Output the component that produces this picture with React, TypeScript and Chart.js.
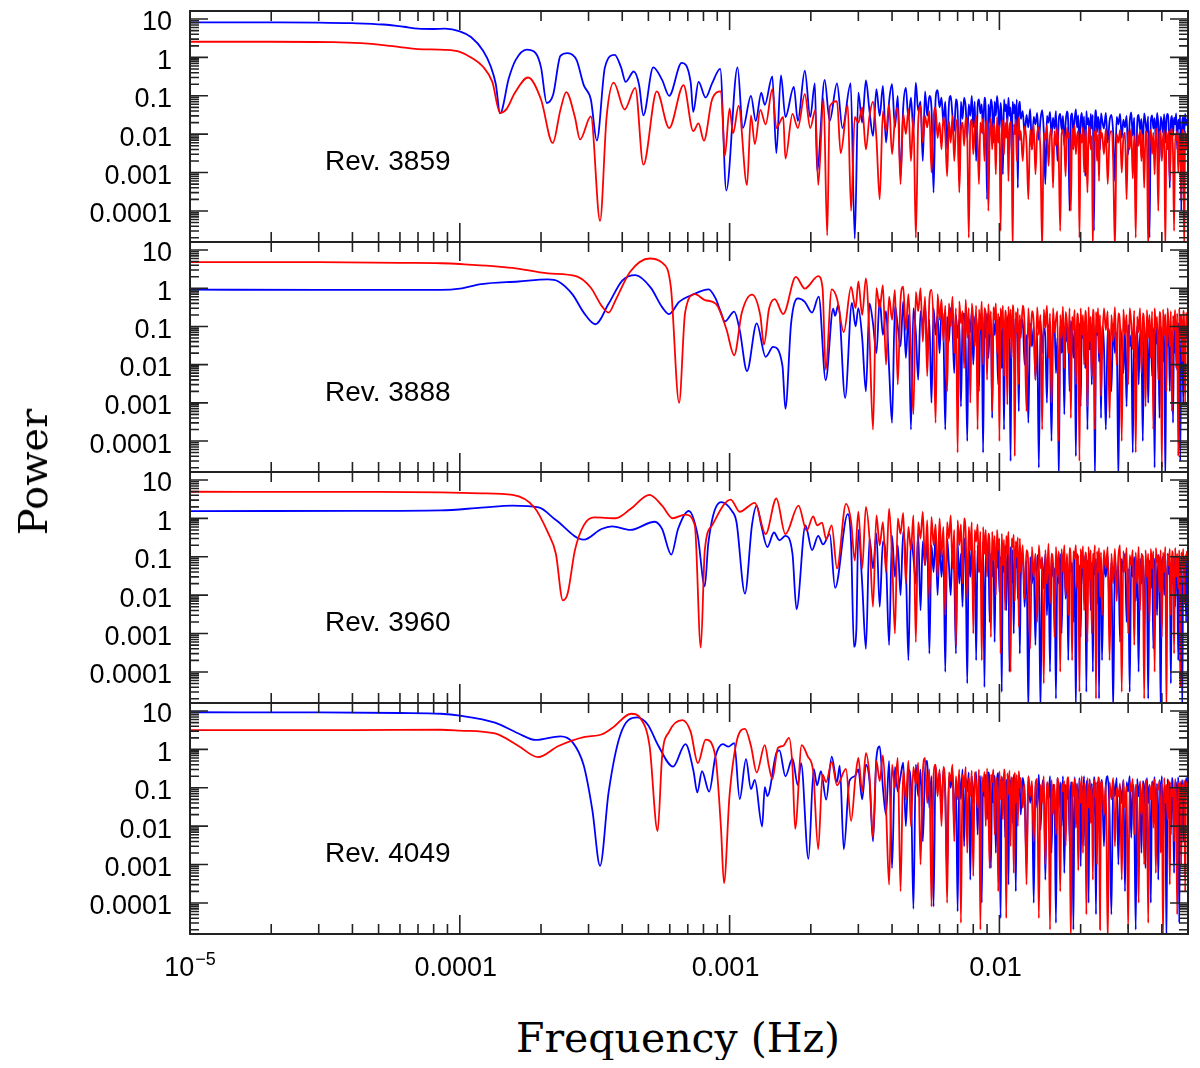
import React, { useEffect, useRef } from "react";
import { Chart, registerables } from "chart.js";

Chart.register(...registerables);

// axis ranges, the same in all four panels
const X_MIN = 1e-5;
const X_MAX = 0.05;
const Y_MIN = 1.55e-5;
const Y_MAX = 16.2;

const X_TICKS = [1e-5, 1e-4, 1e-3, 1e-2];
const X_TICK_LABELS = ["10^-5", "0.0001", "0.001", "0.01"];
const Y_TICKS = [10, 1, 0.1, 0.01, 0.001, 0.0001];
const Y_TICK_LABELS = ["10", "1", "0.1", "0.01", "0.001", "0.0001"];

const REVS = ["Rev. 3859", "Rev. 3888", "Rev. 3960", "Rev. 4049"];

// frequency grid (Hz) of the noisy end of every spectrum
const HI_FREQ = [
  0.003, 0.0031, 0.0032, 0.0033, 0.0034, 0.0035, 0.0036, 0.0037, 0.0038, 0.0039,
  0.004, 0.0041, 0.0042, 0.0043, 0.0044, 0.0045, 0.0046, 0.0047, 0.0048, 0.0049,
  0.005, 0.0051, 0.0052, 0.0053, 0.0054, 0.0055, 0.0056, 0.0057, 0.0058, 0.0059,
  0.006, 0.0061, 0.0062, 0.0063, 0.0064, 0.0065, 0.0066, 0.0067, 0.0068, 0.0069,
  0.007, 0.0071, 0.0072, 0.0073, 0.0074, 0.0075, 0.0076, 0.0077, 0.0078, 0.0079,
  0.008, 0.0081, 0.0082, 0.0083, 0.0084, 0.0085, 0.0086, 0.0087, 0.0088, 0.0089,
  0.009, 0.0091, 0.0092, 0.0093, 0.0094, 0.0095, 0.0096, 0.0097, 0.0098, 0.0099,
  0.01, 0.0101, 0.0102, 0.0103, 0.0104, 0.0105, 0.0106, 0.0107, 0.0108, 0.0109,
  0.011, 0.0111, 0.0112, 0.0113, 0.0114, 0.0115, 0.0116, 0.0117, 0.0118, 0.0119,
  0.012, 0.0122, 0.0124, 0.0126, 0.0128, 0.013, 0.0132, 0.0134, 0.0136, 0.0138,
  0.014, 0.0142, 0.0144, 0.0146, 0.0148, 0.015, 0.0152, 0.0154, 0.0156, 0.0158,
  0.016, 0.0162, 0.0164, 0.0166, 0.0168, 0.017, 0.0172, 0.0174, 0.0176, 0.0178,
  0.018, 0.0182, 0.0184, 0.0186, 0.0188, 0.019, 0.0192, 0.0194, 0.0196, 0.0198,
  0.02, 0.0202, 0.0204, 0.0206, 0.0208, 0.021, 0.0212, 0.0214, 0.0216, 0.0218,
  0.022, 0.0222, 0.0224, 0.0226, 0.0228, 0.023, 0.0232, 0.0234, 0.0236, 0.0238,
  0.024, 0.0244, 0.0248, 0.0252, 0.0256, 0.026, 0.0264, 0.0268, 0.0272, 0.0276,
  0.028, 0.0284, 0.0288, 0.0292, 0.0296, 0.03, 0.0304, 0.0308, 0.0312, 0.0316,
  0.032, 0.0324, 0.0328, 0.0332, 0.0336, 0.034, 0.0344, 0.0348, 0.0352, 0.0356,
  0.036, 0.0364, 0.0368, 0.0372, 0.0376, 0.038, 0.0384, 0.0388, 0.0392, 0.0396,
  0.04, 0.0404, 0.0408, 0.0412, 0.0416, 0.042, 0.0424, 0.0428, 0.0432, 0.0436,
  0.044, 0.0444, 0.0448, 0.0452, 0.0456, 0.046, 0.0464, 0.0468, 0.0472, 0.0476,
  0.048, 0.0484, 0.0488, 0.0492, 0.0496,
];

// ---- Rev. 3859 ----
const blue3859: [number, number][] = [
  [1e-5, 8.2], [2e-5, 8.2], [3e-5, 8.1], [4e-5, 7.8], [5.2e-5, 7.2], [6.2e-5, 6.3],
  [7e-5, 5.6], [8e-5, 5.5], [8.8e-5, 5.6], [1e-4, 4.8], [1.1e-4, 3.4], [1.22e-4, 1.5],
  [1.3e-4, 0.6], [1.36e-4, 0.2], [1.41e-4, 0.035], [1.52e-4, 0.29], [1.61e-4, 0.85],
  [1.77e-4, 1.6], [1.91e-4, 1.3], [2.0e-4, 0.55], [2.1e-4, 0.065], [2.22e-4, 0.11],
  [2.36e-4, 1.1], [2.51e-4, 1.3], [2.71e-4, 0.85], [2.88e-4, 0.19], [3.06e-4, 0.08],
  [3.22e-4, 0.0068], [3.45e-4, 0.55], [3.75e-4, 1.17], [3.96e-4, 0.55], [4.12e-4, 0.23],
  [4.41e-4, 0.43], [4.62e-4, 0.19], [4.79e-4, 0.031], [5.21e-4, 0.55], [5.62e-4, 0.26],
  [5.97e-4, 0.1], [6.64e-4, 0.72], [7.17e-4, 0.23], [7.33e-4, 0.038], [7.67e-4, 0.23],
  [8.15e-4, 0.09], [8.61e-4, 0.21], [9.23e-4, 0.5], [9.72e-4, 0.00034], [1.07e-3, 0.55],
  [1.12e-3, 0.0145], [1.2e-3, 0.1], [1.25e-3, 0.022], [1.31e-3, 0.12], [1.35e-3, 0.058],
  [1.44e-3, 0.32], [1.49e-3, 0.0032], [1.55e-3, 0.34], [1.61e-3, 0.028], [1.73e-3, 0.17],
  [1.79e-3, 0.022], [1.9e-3, 0.45], [1.99e-3, 0.028], [2.07e-3, 0.21], [2.11e-3, 0.0011],
  [2.25e-3, 0.26], [2.35e-3, 0.022], [2.5e-3, 0.21], [2.62e-3, 0.0145], [2.81e-3, 0.21],
  [2.91e-3, 0.000019],
];
const blue3859Hi = [
  0.12, 0.02, 0.25, 0.04, 0.009, 0.15, 0.03, 0.18, 0.006, 0.07,
  0.2, 0.015, 0.1, 0.0008, 0.05, 0.16, 0.025, 0.09, 0.012, 0.22,
  0.04, 0.07, 0.002, 0.13, 0.03, 0.1, 0.05, 0.0003, 0.08, 0.14,
  0.05, 0.09, 0.02, 0.07, 0.004, 0.06, 0.1, 0.03, 0.012, 0.08,
  0.04, 0.0006, 0.07, 0.025, 0.09, 0.05, 0.008, 0.06, 0.03, 0.1,
  0.015, 0.07, 0.002, 0.05, 0.08, 0.035, 0.06, 0.01, 0.09, 0.04,
  0.0002, 0.06, 0.02, 0.08, 0.05, 0.006, 0.07, 0.03, 0.1, 0.045,
  0.012, 0.065, 0.025, 0.0009, 0.08, 0.04, 0.06, 0.018, 0.09, 0.03,
  0.05, 0.003, 0.07, 0.035, 0.06, 0.015, 0.08, 0.0004, 0.05, 0.07,
  0.025, 0.04, 0.01, 0.032, 0.015, 0.045, 0.004, 0.028, 0.018, 0.036,
  0.007, 0.024, 0.042, 0.012, 0.0005, 0.03, 0.02, 0.038, 0.009, 0.027,
  0.014, 0.04, 0.002, 0.025, 0.034, 0.013, 0.03, 0.005, 0.021, 0.039,
  0.017, 0.0001, 0.028, 0.035, 0.01, 0.024, 0.044, 0.015, 0.031, 0.003,
  0.022, 0.036, 0.011, 0.029, 0.0008, 0.04, 0.018, 0.026, 0.006, 0.034,
  0.014, 0.032, 0.00003, 0.021, 0.042, 0.011, 0.028, 0.019, 0.004, 0.035,
  0.025, 0.014, 0.036, 0.006, 0.022, 0.032, 0.011, 0.0006, 0.028, 0.018,
  0.034, 0.008, 0.024, 0.015, 0.03, 0.003, 0.021, 0.037, 0.009, 0.027,
  0.0002, 0.018, 0.032, 0.013, 0.025, 0.005, 0.035, 0.02, 0.011, 0.029,
  0.00002, 0.022, 0.031, 0.014, 0.026, 0.007, 0.036, 0.018, 0.002, 0.028,
  0.021, 0.011, 0.033, 0.006, 0.025, 0.034, 0.015, 0.0004, 0.022, 0.03,
  0.009, 0.027, 0.018, 0.035, 0.004, 0.024, 0.014, 0.031, 0.0001, 0.021,
  0.028, 0.011, 0.034, 0.017, 0.025,
];
const red3859: [number, number][] = [
  [1e-5, 2.56], [2e-5, 2.56], [3.4e-5, 2.5], [4.3e-5, 2.35], [5.2e-5, 2.1], [6e-5, 1.85],
  [7e-5, 1.65], [8.8e-5, 1.58], [1e-4, 1.4], [1.1e-4, 1.0], [1.22e-4, 0.57], [1.32e-4, 0.23],
  [1.41e-4, 0.036], [1.49e-4, 0.045], [1.6e-4, 0.12], [1.79e-4, 0.3], [2.0e-4, 0.08],
  [2.21e-4, 0.0059], [2.36e-4, 0.043], [2.48e-4, 0.125], [2.67e-4, 0.028], [2.79e-4, 0.0073],
  [3.06e-4, 0.029], [3.31e-4, 0.000055], [3.5e-4, 0.028], [3.72e-4, 0.22], [4.08e-4, 0.044],
  [4.47e-4, 0.16], [4.79e-4, 0.0016], [5.37e-4, 0.13], [5.97e-4, 0.0145], [6.75e-4, 0.19],
  [7.33e-4, 0.012], [7.67e-4, 0.019], [8.03e-4, 0.0068], [8.61e-4, 0.08], [9.29e-4, 0.13],
  [9.6e-4, 0.0027], [1.0e-3, 0.047], [1.03e-3, 0.0105], [1.08e-3, 0.055], [1.16e-3, 0.00047],
  [1.2e-3, 0.031], [1.24e-3, 0.0055], [1.3e-3, 0.043], [1.36e-3, 0.018], [1.44e-3, 0.15],
  [1.49e-3, 0.0145], [1.58e-3, 0.028], [1.61e-3, 0.0023], [1.71e-3, 0.034], [1.79e-3, 0.0145],
  [1.9e-3, 0.11], [1.99e-3, 0.0145], [2.08e-3, 0.043], [2.13e-3, 0.00047], [2.23e-3, 0.085],
  [2.3e-3, 0.000023], [2.35e-3, 0.052], [2.5e-3, 0.072], [2.58e-3, 0.0032], [2.74e-3, 0.059],
  [2.82e-3, 0.0001], [2.91e-3, 0.028],
];
const red3859Hi = [
  0.02, 0.05, 0.004, 0.03, 0.07, 0.008, 0.0002, 0.04, 0.012, 0.06,
  0.003, 0.025, 0.05, 0.0005, 0.035, 0.01, 0.045, 0.002, 0.03, 0.00002,
  0.02, 0.055, 0.006, 0.03, 0.015, 0.04, 0.001, 0.025, 0.05, 0.008,
  0.02, 0.004, 0.028, 0.01, 0.0008, 0.022, 0.006, 0.03, 0.002, 0.015,
  0.025, 0.0003, 0.012, 0.02, 0.005, 0.027, 0.009, 0.00002, 0.018, 0.024,
  0.003, 0.014, 0.03, 0.007, 0.0005, 0.02, 0.011, 0.026, 0.002, 0.016,
  0.022, 0.0001, 0.009, 0.025, 0.004, 0.019, 0.013, 0.0009, 0.028, 0.006,
  0.017, 0.00003, 0.012, 0.023, 0.003, 0.02, 0.008, 0.026, 0.0006, 0.015,
  0.021, 0.005, 0.00001, 0.018, 0.01, 0.024, 0.002, 0.014, 0.027, 0.007,
  0.012, 0.002, 0.016, 0.006, 0.0002, 0.013, 0.004, 0.018, 0.0009, 0.01,
  0.015, 0.003, 0.00001, 0.011, 0.007, 0.017, 0.0015, 0.009, 0.014, 0.0004,
  0.012, 0.005, 0.016, 0.002, 0.00003, 0.01, 0.013, 0.006, 0.0008, 0.015,
  0.008, 0.011, 0.0001, 0.014, 0.004, 0.017, 0.003, 0.009, 0.012, 0.00002,
  0.01, 0.006, 0.015, 0.001, 0.013, 0.005, 0.0003, 0.011, 0.016, 0.004,
  0.009, 0.00001, 0.012, 0.007, 0.014, 0.002, 0.01, 0.0006, 0.013, 0.008,
  0.011, 0.003, 0.014, 0.0005, 0.009, 0.012, 0.002, 0.00001, 0.01, 0.006,
  0.013, 0.001, 0.008, 0.011, 0.0002, 0.012, 0.004, 0.014, 0.0007, 0.009,
  0.00002, 0.011, 0.005, 0.013, 0.002, 0.01, 0.0004, 0.012, 0.007, 0.00001,
  0.009, 0.013, 0.003, 0.011, 0.0009, 0.014, 0.006, 0.0001, 0.01, 0.012,
  0.002, 0.008, 0.013, 0.00001, 0.011, 0.004, 0.012, 0.0006, 0.009, 0.014,
  0.003, 0.00003, 0.01, 0.007, 0.012, 0.001, 0.011, 0.005, 0.0002, 0.013,
  0.009, 0.00001, 0.012, 0.004, 0.01,
];

// ---- Rev. 3888 ----
const blue3888: [number, number][] = [
  [1e-5, 0.92], [3e-5, 0.9], [6e-5, 0.9], [8.5e-5, 0.9], [1e-4, 0.97], [1.2e-4, 1.28],
  [1.65e-4, 1.5], [2.12e-4, 1.7], [2.32e-4, 1.5], [2.62e-4, 0.68], [2.88e-4, 0.23],
  [3.18e-4, 0.114], [3.56e-4, 0.39], [4.0e-4, 1.58], [4.47e-4, 2.2], [5.1e-4, 1.04],
  [5.62e-4, 0.32], [5.97e-4, 0.21], [6.5e-4, 0.44], [7.3e-4, 0.68], [8.36e-4, 0.93],
  [8.87e-4, 0.54], [9.29e-4, 0.23], [9.6e-4, 0.135], [1.04e-3, 0.245], [1.09e-3, 0.08],
  [1.16e-3, 0.0068], [1.26e-3, 0.12], [1.36e-3, 0.016], [1.45e-3, 0.029], [1.57e-3, 0.0093],
  [1.61e-3, 0.0007], [1.69e-3, 0.12], [1.79e-3, 0.54], [1.9e-3, 0.44], [2.02e-3, 0.23],
  [2.14e-3, 0.6], [2.27e-3, 0.0039], [2.42e-3, 0.29], [2.46e-3, 0.19], [2.53e-3, 0.37],
  [2.68e-3, 0.00135], [2.84e-3, 0.41], [2.93e-3, 0.1],
];
const blue3888Hi = [
  0.3, 0.05, 0.002, 0.4, 0.12, 0.02, 0.5, 0.06, 0.25, 0.008,
  0.0003, 0.35, 0.1, 0.03, 0.45, 0.015, 0.2, 0.0002, 0.3, 0.07,
  0.004, 0.25, 0.1, 0.4, 0.02, 0.15, 0.001, 0.3, 0.06, 0.2,
  0.02, 0.25, 0.08, 0.0002, 0.18, 0.04, 0.3, 0.1, 0.006, 0.2,
  0.05, 0.15, 0.0008, 0.12, 0.22, 0.03, 0.0001, 0.16, 0.07, 0.25,
  0.01, 0.12, 0.2, 0.04, 0.002, 0.15, 0.09, 0.00005, 0.18, 0.05,
  0.22, 0.015, 0.1, 0.16, 0.0004, 0.12, 0.06, 0.2, 0.03, 0.003,
  0.14, 0.18, 0.008, 0.1, 0.0002, 0.15, 0.05, 0.12, 0.2, 0.02,
  0.00003, 0.13, 0.07, 0.16, 0.004, 0.1, 0.18, 0.04, 0.0006, 0.12,
  0.08, 0.15, 0.01, 0.06, 0.0003, 0.12, 0.03, 0.1, 0.004, 0.07,
  0.00002, 0.14, 0.02, 0.09, 0.05, 0.001, 0.11, 0.03, 0.0001, 0.08,
  0.13, 0.006, 0.05, 0.00001, 0.1, 0.02, 0.07, 0.0005, 0.12, 0.04,
  0.09, 0.002, 0.14, 0.06, 0.015, 0.11, 0.00004, 0.08, 0.03, 0.12,
  0.0008, 0.1, 0.05, 0.13, 0.008, 0.07, 0.0002, 0.11, 0.025, 0.09,
  0.003, 0.12, 0.04, 0.00001, 0.1, 0.06, 0.14, 0.012, 0.08, 0.0004,
  0.1, 0.03, 0.0002, 0.09, 0.05, 0.002, 0.12, 0.02, 0.07, 0.00001,
  0.1, 0.04, 0.006, 0.08, 0.0008, 0.11, 0.03, 0.06, 0.00005, 0.09,
  0.015, 0.1, 0.003, 0.07, 0.04, 0.0001, 0.12, 0.02, 0.08, 0.001,
  0.06, 0.1, 0.005, 0.09, 0.00002, 0.11, 0.035, 0.07, 0.0004, 0.1,
  0.05, 0.012, 0.08, 0.00001, 0.09, 0.03, 0.11, 0.002, 0.07, 0.045,
  0.0003, 0.1, 0.02, 0.08, 0.007, 0.12, 0.04, 0.00003, 0.09, 0.06,
  0.001, 0.1, 0.03, 0.08, 0.05,
];
const red3888: [number, number][] = [
  [1e-5, 4.8], [3e-5, 4.8], [6e-5, 4.6], [8.5e-5, 4.5], [1e-4, 4.3], [1.57e-4, 3.4],
  [2.12e-4, 2.45], [2.71e-4, 2.05], [3.06e-4, 1.03], [3.35e-4, 0.35], [3.56e-4, 0.23],
  [3.78e-4, 0.49], [4.28e-4, 2.7], [5.05e-4, 6.0], [5.62e-4, 4.65], [6.06e-4, 1.03],
  [6.5e-4, 0.001], [6.84e-4, 0.23], [7.43e-4, 0.7], [8.1e-4, 0.49], [8.9e-4, 0.39],
  [9.72e-4, 0.087], [1.04e-3, 0.0176], [1.11e-3, 0.23], [1.21e-3, 0.68], [1.3e-3, 0.19],
  [1.34e-3, 0.0335], [1.4e-3, 0.29], [1.47e-3, 0.52], [1.58e-3, 0.21], [1.76e-3, 1.97],
  [1.9e-3, 0.98], [2.13e-3, 2.06], [2.21e-3, 1.03], [2.27e-3, 0.0074], [2.39e-3, 0.93],
  [2.5e-3, 0.54], [2.65e-3, 0.071], [2.82e-3, 1.08], [2.93e-3, 0.3],
];
const red3888Hi = [
  1.5, 0.2, 1.8, 0.05, 0.0002, 1.0, 0.3, 1.2, 0.01, 0.6,
  0.15, 0.9, 0.003, 0.5, 1.1, 0.08, 0.7, 0.02, 0.0005, 0.8,
  0.25, 1.0, 0.04, 0.6, 0.005, 0.5, 0.9, 0.1, 0.0003, 0.7,
  0.15, 0.5, 0.04, 0.35, 0.002, 0.4, 0.1, 0.6, 0.02, 0.3,
  0.00005, 0.45, 0.12, 0.25, 0.008, 0.5, 0.05, 0.3, 0.001, 0.4,
  0.15, 0.03, 0.35, 0.0002, 0.28, 0.08, 0.45, 0.01, 0.3, 0.2,
  0.004, 0.38, 0.06, 0.25, 0.0006, 0.32, 0.15, 0.4, 0.02, 0.22,
  0.0001, 0.3, 0.09, 0.35, 0.005, 0.26, 0.12, 0.0009, 0.33, 0.05,
  0.28, 0.015, 0.36, 0.1, 0.00004, 0.24, 0.07, 0.3, 0.003, 0.2,
  0.05, 0.35, 0.1, 0.0006, 0.3, 0.03, 0.25, 0.12, 0.004, 0.32,
  0.06, 0.2, 0.0002, 0.28, 0.09, 0.35, 0.015, 0.22, 0.001, 0.3,
  0.07, 0.15, 0.25, 0.0001, 0.2, 0.05, 0.33, 0.008, 0.24, 0.12,
  0.02, 0.3, 0.0004, 0.18, 0.08, 0.27, 0.003, 0.22, 0.14, 0.00003,
  0.3, 0.06, 0.2, 0.01, 0.26, 0.1, 0.0008, 0.32, 0.04, 0.18,
  0.005, 0.28, 0.12, 0.0002, 0.24, 0.07, 0.3, 0.02, 0.2, 0.0015,
  0.02, 0.3, 0.08, 0.25, 0.0004, 0.2, 0.04, 0.32, 0.01, 0.22,
  0.1, 0.0001, 0.28, 0.06, 0.2, 0.003, 0.3, 0.12, 0.025, 0.26,
  0.00005, 0.18, 0.07, 0.3, 0.006, 0.22, 0.1, 0.0008, 0.27, 0.05,
  0.2, 0.015, 0.25, 0.0002, 0.3, 0.09, 0.18, 0.004, 0.24, 0.12,
  0.00002, 0.28, 0.06, 0.21, 0.002, 0.3, 0.1, 0.03, 0.25, 0.0006,
  0.19, 0.08, 0.27, 0.008, 0.22, 0.00004, 0.3, 0.05, 0.2, 0.012,
  0.26, 0.1, 0.001, 0.23, 0.07,
];

// ---- Rev. 3960 ----
const blue3960: [number, number][] = [
  [1e-5, 1.55], [4e-5, 1.57], [8.5e-5, 1.62], [1.2e-4, 1.9], [1.57e-4, 2.15], [1.96e-4, 1.93],
  [2.27e-4, 0.91], [2.88e-4, 0.28], [3.35e-4, 0.53], [3.67e-4, 0.62], [4.28e-4, 0.5],
  [5.28e-4, 0.82], [5.62e-4, 0.53], [6.08e-4, 0.114], [6.44e-4, 0.53], [7.06e-4, 1.56],
  [7.62e-4, 0.35], [8.09e-4, 0.017], [8.34e-4, 0.23], [9.29e-4, 2.66], [1.02e-3, 1.56],
  [1.06e-3, 0.82], [1.14e-3, 0.011], [1.21e-3, 0.66], [1.26e-3, 2.15], [1.31e-3, 0.66],
  [1.38e-3, 0.18], [1.46e-3, 0.43], [1.53e-3, 0.27], [1.61e-3, 0.35], [1.71e-3, 0.12],
  [1.77e-3, 0.0043], [1.91e-3, 0.66], [2.02e-3, 0.15], [2.13e-3, 0.35], [2.22e-3, 0.21],
  [2.35e-3, 0.39], [2.46e-3, 0.0155], [2.74e-3, 1.3], [2.82e-3, 0.23], [2.89e-3, 0.00045],
  [2.95e-3, 0.0013],
];
const blue3960Hi = [
  0.5, 0.02, 0.0004, 0.3, 0.05, 0.4, 0.005, 0.25, 0.08, 0.0005,
  0.35, 0.03, 0.2, 0.01, 0.45, 0.06, 0.0002, 0.3, 0.1, 0.02,
  0.4, 0.004, 0.25, 0.06, 0.3, 0.0003, 0.2, 0.04, 0.35, 0.01,
  0.25, 0.03, 0.15, 0.0001, 0.3, 0.06, 0.01, 0.2, 0.04, 0.0003,
  0.25, 0.02, 0.12, 0.005, 0.3, 0.05, 0.00005, 0.18, 0.03, 0.22,
  0.008, 0.15, 0.0002, 0.2, 0.04, 0.1, 0.01, 0.25, 0.00004, 0.14,
  0.06, 0.2, 0.002, 0.12, 0.03, 0.18, 0.0006, 0.15, 0.05, 0.22,
  0.012, 0.1, 0.00003, 0.16, 0.04, 0.2, 0.004, 0.13, 0.07, 0.0001,
  0.18, 0.02, 0.15, 0.001, 0.12, 0.05, 0.2, 0.008, 0.1, 0.0003,
  0.03, 0.12, 0.005, 0.08, 0.00001, 0.1, 0.02, 0.06, 0.0005, 0.11,
  0.04, 0.00001, 0.09, 0.015, 0.12, 0.003, 0.07, 0.0001, 0.1, 0.03,
  0.05, 0.00002, 0.09, 0.02, 0.12, 0.001, 0.06, 0.08, 0.008, 0.1,
  0.0002, 0.11, 0.04, 0.07, 0.002, 0.09, 0.00001, 0.12, 0.03, 0.06,
  0.0008, 0.1, 0.05, 0.015, 0.11, 0.00003, 0.08, 0.025, 0.12, 0.004,
  0.07, 0.0001, 0.1, 0.035, 0.09, 0.006, 0.11, 0.00002, 0.08, 0.05,
  0.0002, 0.08, 0.03, 0.11, 0.004, 0.07, 0.00001, 0.1, 0.02, 0.06,
  0.0006, 0.09, 0.04, 0.12, 0.002, 0.05, 0.00003, 0.08, 0.03, 0.1,
  0.007, 0.06, 0.0001, 0.09, 0.02, 0.11, 0.001, 0.07, 0.04, 0.00002,
  0.08, 0.015, 0.1, 0.0004, 0.09, 0.05, 0.003, 0.11, 0.025, 0.00001,
  0.07, 0.1, 0.01, 0.08, 0.0008, 0.12, 0.035, 0.06, 0.00005, 0.09,
  0.02, 0.1, 0.005, 0.08, 0.045, 0.0002, 0.11, 0.03, 0.07, 0.00001,
  0.09, 0.015, 0.1, 0.002, 0.08,
];
const red3960: [number, number][] = [
  [1e-5, 4.95], [5e-5, 4.9], [8.5e-5, 4.75], [1.2e-4, 4.5], [1.57e-4, 4.1], [1.89e-4, 1.93],
  [2.12e-4, 0.43], [2.27e-4, 0.12], [2.41e-4, 0.0073], [2.51e-4, 0.011], [2.67e-4, 0.147],
  [2.88e-4, 0.66], [3.15e-4, 1.06], [3.78e-4, 1.01], [4.28e-4, 1.73], [5.05e-4, 4.1],
  [5.62e-4, 2.15], [6.15e-4, 1.01], [6.84e-4, 1.26], [7.43e-4, 0.66], [7.82e-4, 0.00043],
  [8.09e-4, 0.147], [8.61e-4, 0.66], [1.01e-3, 3.1], [1.09e-3, 1.49], [1.24e-3, 2.55],
  [1.36e-3, 0.39], [1.49e-3, 3.3], [1.61e-3, 0.39], [1.8e-3, 2.15], [1.93e-3, 0.48],
  [2.04e-3, 1.13], [2.11e-3, 0.66], [2.2e-3, 0.78], [2.28e-3, 0.29], [2.39e-3, 0.66],
  [2.5e-3, 0.05], [2.7e-3, 2.4], [2.82e-3, 0.82], [2.91e-3, 0.08],
];
const red3960Hi = [
  1.5, 0.05, 2.0, 0.3, 0.005, 1.2, 0.2, 0.8, 0.04, 1.8,
  0.1, 0.001, 1.0, 0.4, 1.4, 0.02, 0.6, 0.15, 1.2, 0.0006,
  0.8, 0.3, 1.5, 0.06, 0.9, 0.008, 1.1, 0.2, 0.7, 0.03,
  1.0, 0.1, 0.6, 0.003, 0.8, 0.3, 1.2, 0.05, 0.5, 0.0005,
  0.9, 0.2, 0.7, 0.02, 1.0, 0.4, 0.008, 0.6, 0.15, 0.8,
  0.001, 0.5, 0.25, 0.7, 0.04, 0.45, 0.0002, 0.6, 0.12, 0.5,
  0.03, 0.4, 0.2, 0.0008, 0.45, 0.08, 0.35, 0.01, 0.5, 0.15,
  0.3, 0.0003, 0.4, 0.06, 0.28, 0.004, 0.35, 0.12, 0.45, 0.02,
  0.0001, 0.3, 0.18, 0.38, 0.007, 0.25, 0.1, 0.32, 0.0015, 0.3,
  0.04, 0.2, 0.008, 0.15, 0.06, 0.0004, 0.18, 0.03, 0.12, 0.002,
  0.2, 0.05, 0.1, 0.00005, 0.15, 0.02, 0.22, 0.006, 0.12, 0.07,
  0.0008, 0.18, 0.03, 0.14, 0.0001, 0.16, 0.04, 0.2, 0.01, 0.12,
  0.003, 0.17, 0.06, 0.0002, 0.14, 0.09, 0.2, 0.015, 0.11, 0.00003,
  0.16, 0.05, 0.19, 0.004, 0.13, 0.08, 0.0006, 0.18, 0.025, 0.15,
  0.001, 0.12, 0.07, 0.2, 0.00002, 0.14, 0.04, 0.17, 0.009, 0.13,
  0.003, 0.15, 0.05, 0.18, 0.0002, 0.12, 0.02, 0.16, 0.007, 0.1,
  0.2, 0.00003, 0.14, 0.04, 0.17, 0.001, 0.11, 0.06, 0.15, 0.0005,
  0.13, 0.02, 0.18, 0.004, 0.12, 0.08, 0.00002, 0.15, 0.03, 0.12,
  0.002, 0.16, 0.05, 0.14, 0.0001, 0.17, 0.07, 0.11, 0.012, 0.15,
  0.0008, 0.13, 0.04, 0.18, 0.00001, 0.12, 0.06, 0.16, 0.003, 0.14,
  0.09, 0.0003, 0.17, 0.03, 0.12, 0.015, 0.15, 0.00004, 0.13, 0.05,
  0.16, 0.006, 0.11, 0.08, 0.14,
];

// ---- Rev. 4049 ----
const blue4049: [number, number][] = [
  [1e-5, 9.3], [3e-5, 9.2], [6e-5, 8.9], [8.5e-5, 8.5], [1e-4, 7.6], [1.35e-4, 5.0],
  [1.65e-4, 2.6], [1.91e-4, 1.77], [2.36e-4, 2.2], [2.62e-4, 1.53], [2.88e-4, 0.38],
  [3.1e-4, 0.026], [3.31e-4, 0.00093], [3.56e-4, 0.076], [3.93e-4, 2.35], [4.54e-4, 6.85],
  [4.97e-4, 4.45], [5.45e-4, 1.23], [6.17e-4, 0.355], [6.86e-4, 1.37], [7.35e-4, 0.27],
  [7.59e-4, 0.076], [7.9e-4, 0.27], [8.4e-4, 0.079], [8.86e-4, 0.65], [9.44e-4, 1.37],
  [9.9e-4, 1.18], [1.04e-3, 1.46], [1.09e-3, 0.051], [1.15e-3, 0.56], [1.2e-3, 0.093],
  [1.24e-3, 0.16], [1.32e-3, 0.0098], [1.35e-3, 0.104], [1.38e-3, 0.061], [1.49e-3, 0.8],
  [1.53e-3, 0.94], [1.61e-3, 0.2], [1.71e-3, 0.58], [1.79e-3, 0.116], [1.84e-3, 0.44],
  [1.96e-3, 0.0014], [2.05e-3, 0.31], [2.11e-3, 0.116], [2.18e-3, 0.27], [2.28e-3, 0.049],
  [2.39e-3, 0.65], [2.5e-3, 0.14], [2.56e-3, 0.38], [2.65e-3, 0.0025], [2.78e-3, 0.15],
  [2.91e-3, 0.2],
];
const blue4049Hi = [
  0.3, 0.05, 0.4, 0.15, 0.004, 0.6, 1.2, 0.1, 0.02, 0.5,
  0.0008, 0.35, 0.08, 0.2, 0.45, 0.01, 0.3, 0.12, 0.00007, 0.4,
  0.06, 0.3, 0.004, 0.25, 0.5, 0.03, 0.2, 0.00008, 0.35, 0.1,
  0.25, 0.02, 0.3, 0.06, 0.0005, 0.2, 0.1, 0.28, 0.01, 0.15,
  0.00006, 0.22, 0.05, 0.3, 0.003, 0.18, 0.08, 0.25, 0.0004, 0.2,
  0.04, 0.15, 0.26, 0.006, 0.12, 0.2, 0.0001, 0.18, 0.06, 0.22,
  0.015, 0.25, 0.09, 0.0008, 0.17, 0.04, 0.21, 0.002, 0.14, 0.24,
  0.03, 0.00004, 0.19, 0.07, 0.23, 0.005, 0.16, 0.11, 0.0003, 0.2,
  0.05, 0.18, 0.012, 0.22, 0.08, 0.0002, 0.15, 0.03, 0.2, 0.1,
  0.02, 0.18, 0.06, 0.001, 0.2, 0.04, 0.12, 0.0001, 0.15, 0.03,
  0.22, 0.008, 0.1, 0.16, 0.0004, 0.13, 0.05, 0.2, 0.002, 0.12,
  0.07, 0.00003, 0.18, 0.03, 0.14, 0.01, 0.2, 0.0006, 0.12, 0.05,
  0.17, 0.004, 0.14, 0.09, 0.00002, 0.19, 0.04, 0.13, 0.015, 0.18,
  0.0009, 0.11, 0.06, 0.2, 0.003, 0.15, 0.08, 0.0001, 0.17, 0.025,
  0.13, 0.007, 0.19, 0.05, 0.00005, 0.14, 0.1, 0.18, 0.002, 0.12,
  0.16, 0.003, 0.12, 0.2, 0.02, 0.00005, 0.15, 0.06, 0.18, 0.001,
  0.11, 0.04, 0.16, 0.0002, 0.14, 0.08, 0.2, 0.005, 0.12, 0.03,
  0.00002, 0.17, 0.06, 0.13, 0.002, 0.15, 0.1, 0.0008, 0.18, 0.04,
  0.12, 0.0001, 0.15, 0.07, 0.19, 0.01, 0.13, 0.0004, 0.16, 0.05,
  0.2, 0.003, 0.11, 0.09, 0.00001, 0.17, 0.03, 0.14, 0.006, 0.18,
  0.06, 0.0006, 0.15, 0.12, 0.02, 0.19, 0.00003, 0.13, 0.08, 0.16,
  0.004, 0.14, 0.05, 0.18, 0.1,
];
const red4049: [number, number][] = [
  [1e-5, 3.2], [4e-5, 3.2], [8.5e-5, 3.25], [1e-4, 3.1], [1.35e-4, 2.6], [1.65e-4, 1.23],
  [1.95e-4, 0.63], [2.32e-4, 1.23], [2.88e-4, 2.1], [3.35e-4, 2.45], [3.67e-4, 3.6],
  [4.32e-4, 8.5], [4.69e-4, 6.2], [5.05e-4, 1.23], [5.41e-4, 0.0074], [5.62e-4, 0.65],
  [5.97e-4, 2.9], [6.68e-4, 5.8], [7.17e-4, 2.9], [7.63e-4, 0.44], [8.15e-4, 1.81],
  [8.86e-4, 0.65], [9.29e-4, 0.0089], [9.53e-4, 0.00033], [9.99e-4, 0.061], [1.06e-3, 1.53],
  [1.14e-3, 3.45], [1.2e-3, 1.23], [1.26e-3, 0.25], [1.35e-3, 1.29], [1.4e-3, 0.35],
  [1.44e-3, 0.17], [1.51e-3, 1.1], [1.58e-3, 1.23], [1.66e-3, 2.0], [1.71e-3, 0.35],
  [1.75e-3, 0.0085], [1.85e-3, 1.29], [1.95e-3, 0.65], [2.04e-3, 0.27], [2.13e-3, 0.0025],
  [2.21e-3, 0.22], [2.28e-3, 0.14], [2.39e-3, 0.47], [2.5e-3, 0.116], [2.7e-3, 0.31],
  [2.82e-3, 0.0136], [2.93e-3, 0.2],
];
const red4049Hi = [
  0.6, 0.08, 0.8, 0.2, 0.005, 0.5, 0.15, 0.7, 0.03, 0.0003,
  0.4, 0.1, 0.6, 0.0002, 0.3, 0.05, 0.5, 0.01, 0.35, 0.12,
  0.45, 0.001, 0.25, 0.6, 0.04, 0.3, 0.00008, 0.2, 0.4, 0.06,
  0.3, 0.01, 0.35, 0.08, 0.0001, 0.25, 0.15, 0.4, 0.004, 0.2,
  0.05, 0.3, 0.00003, 0.22, 0.1, 0.35, 0.002, 0.18, 0.06, 0.28,
  0.0005, 0.25, 0.12, 0.03, 0.3, 0.00002, 0.2, 0.08, 0.26, 0.01,
  0.32, 0.04, 0.0008, 0.22, 0.14, 0.3, 0.006, 0.18, 0.09, 0.0002,
  0.27, 0.05, 0.2, 0.015, 0.3, 0.11, 0.00004, 0.24, 0.07, 0.28,
  0.003, 0.19, 0.13, 0.0006, 0.25, 0.04, 0.22, 0.01, 0.27, 0.1,
  0.18, 0.03, 0.12, 0.0003, 0.2, 0.06, 0.15, 0.004, 0.1, 0.17,
  0.00004, 0.12, 0.04, 0.2, 0.001, 0.14, 0.07, 0.00002, 0.16, 0.02,
  0.12, 0.006, 0.18, 0.05, 0.0002, 0.13, 0.08, 0.15, 0.003, 0.11,
  0.19, 0.02, 0.00001, 0.14, 0.06, 0.17, 0.009, 0.12, 0.0007, 0.16,
  0.04, 0.2, 0.002, 0.13, 0.09, 0.00005, 0.18, 0.03, 0.15, 0.012,
  0.11, 0.0004, 0.17, 0.06, 0.14, 0.001, 0.19, 0.05, 0.00002, 0.13,
  0.15, 0.02, 0.12, 0.00001, 0.14, 0.05, 0.18, 0.003, 0.1, 0.06,
  0.13, 0.0004, 0.16, 0.03, 0.11, 0.00002, 0.14, 0.08, 0.17, 0.006,
  0.12, 0.04, 0.0001, 0.15, 0.02, 0.13, 0.001, 0.16, 0.07, 0.00003,
  0.12, 0.05, 0.14, 0.009, 0.17, 0.0006, 0.11, 0.09, 0.15, 0.002,
  0.13, 0.00001, 0.18, 0.04, 0.12, 0.015, 0.16, 0.0003, 0.14, 0.06,
  0.1, 0.004, 0.17, 0.03, 0.00005, 0.13, 0.08, 0.15, 0.001, 0.12,
  0.05, 0.16, 0.0002, 0.14, 0.09,
];

const PANELS = [
  { rev: REVS[0], blue: blue3859, blueHi: blue3859Hi, red: red3859, redHi: red3859Hi },
  { rev: REVS[1], blue: blue3888, blueHi: blue3888Hi, red: red3888, redHi: red3888Hi },
  { rev: REVS[2], blue: blue3960, blueHi: blue3960Hi, red: red3960, redHi: red3960Hi },
  { rev: REVS[3], blue: blue4049, blueHi: blue4049Hi, red: red4049, redHi: red4049Hi },
];

// layout in px, relative to the figure box
const WIDTH = 1184;
const HEIGHT = 1052;
const PLOT_LEFT = 182;
const PLOT_RIGHT = 1180;
const PANEL_TOPS = [3, 234, 464, 695];
const PANEL_BOTTOMS = [234, 464, 695, 926];
const PAD = 8;
const X_LABEL_ROOM = 60;

const TICK_FONT = '27px "Liberation Sans", Arial, sans-serif';
const SUP_FONT = '18px "Liberation Sans", Arial, sans-serif';
const REV_FONT = '28px "Liberation Sans", Arial, sans-serif';
const TITLE_FONT = '"DejaVu Serif", "Liberation Serif", serif';
const AXIS_COLOR = "#222";

function toPoints(lo: [number, number][], hi: number[]) {
  const pts = lo.map(([x, y]) => ({ x, y }));
  const n = Math.min(hi.length, HI_FREQ.length);
  for (let i = 0; i < n; i++) pts.push({ x: HI_FREQ[i], y: hi[i] });
  return pts;
}

// frame, inward ticks on all four sides, tick labels and the Rev. label
const framePlugin = {
  id: "frame",
  afterDraw(chart: any, _args: any, opts: any) {
    const { ctx, chartArea: a, scales } = chart;
    const xs = scales.x;
    const ys = scales.y;
    ctx.save();
    ctx.strokeStyle = AXIS_COLOR;
    ctx.lineWidth = 1.6;
    ctx.beginPath();
    for (let e = -5; e <= -2; e++) {
      for (let m = 1; m < 10; m++) {
        const v = m * Math.pow(10, e);
        if (v > X_MAX * 1.0001) continue;
        const px = xs.getPixelForValue(v);
        const len = m === 1 ? 19 : 10;
        ctx.moveTo(px, a.bottom);
        ctx.lineTo(px, a.bottom - len);
        ctx.moveTo(px, a.top);
        ctx.lineTo(px, a.top + len);
      }
    }
    for (let e = -5; e <= 1; e++) {
      for (let m = 1; m < 10; m++) {
        const v = m * Math.pow(10, e);
        if (v < Y_MIN || v > Y_MAX) continue;
        const py = ys.getPixelForValue(v);
        const len = m === 1 ? 18 : 9;
        ctx.moveTo(a.left, py);
        ctx.lineTo(a.left + len, py);
        ctx.moveTo(a.right, py);
        ctx.lineTo(a.right - len, py);
      }
    }
    ctx.stroke();
    ctx.lineWidth = 2;
    ctx.strokeRect(a.left, a.top, a.right - a.left, a.bottom - a.top);

    ctx.fillStyle = "#000";
    ctx.font = TICK_FONT;
    ctx.textAlign = "right";
    ctx.textBaseline = "middle";
    Y_TICKS.forEach((v, i) => {
      ctx.fillText(Y_TICK_LABELS[i], a.left - 18, ys.getPixelForValue(v) + 4);
    });

    ctx.textAlign = "left";
    ctx.font = REV_FONT;
    ctx.fillText(opts.rev, a.left + 135, a.top + 151);

    if (opts.showX) {
      const y = a.bottom + 35;
      X_TICKS.forEach((v, i) => {
        const px = xs.getPixelForValue(v);
        const lbl = X_TICK_LABELS[i];
        if (lbl.includes("^")) {
          const [base, exp] = lbl.split("^");
          const expText = exp.replace("-", "\u2212");
          ctx.font = TICK_FONT;
          const wb = ctx.measureText(base).width;
          ctx.font = SUP_FONT;
          const we = ctx.measureText(expText).width;
          const x0 = px - (wb + we + 1) / 2;
          ctx.textAlign = "left";
          ctx.font = TICK_FONT;
          ctx.fillText(base, x0, y);
          ctx.font = SUP_FONT;
          ctx.fillText(expText, x0 + wb + 1, y - 9);
        } else {
          ctx.textAlign = "center";
          ctx.font = TICK_FONT;
          ctx.fillText(lbl, px - 4, y);
        }
      });
    }
    ctx.restore();
  },
};

function Panel({ idx }: { idx: number }) {
  const ref = useRef<HTMLCanvasElement | null>(null);
  const p = PANELS[idx];
  const last = idx === PANELS.length - 1;
  const plotH = PANEL_BOTTOMS[idx] - PANEL_TOPS[idx];
  const bottomPad = PAD + (last ? X_LABEL_ROOM : 0);
  const height = plotH + PAD + bottomPad;
  const top = PANEL_TOPS[idx] - PAD;

  useEffect(() => {
    if (!ref.current) return;
    const chart = new Chart(ref.current, {
      type: "line",
      data: {
        datasets: [
          {
            label: "red",
            data: toPoints(p.red, p.redHi),
            borderColor: "#ff0000",
            order: 0,
          },
          {
            label: "blue",
            data: toPoints(p.blue, p.blueHi),
            borderColor: "#0000ff",
            order: 1,
          },
        ],
      },
      options: {
        responsive: false,
        animation: false,
        events: [],
        layout: {
          padding: { left: PLOT_LEFT, right: WIDTH - PLOT_RIGHT, top: PAD, bottom: bottomPad },
        },
        elements: {
          point: { radius: 0 },
          line: { borderWidth: 1.8, cubicInterpolationMode: "monotone" },
        },
        scales: {
          x: { type: "logarithmic", min: X_MIN, max: X_MAX, display: false },
          y: { type: "logarithmic", min: Y_MIN, max: Y_MAX, display: false },
        },
        plugins: {
          legend: { display: false },
          tooltip: { enabled: false },
          frame: { rev: p.rev, showX: last },
        },
      } as any,
      plugins: [framePlugin],
    });
    return () => chart.destroy();
  }, [idx]);

  return (
    <canvas
      ref={ref}
      width={WIDTH}
      height={height}
      style={{ position: "absolute", left: 0, top, width: WIDTH, height }}
    />
  );
}

export default function App() {
  return (
    <div style={{ position: "relative", width: WIDTH, height: HEIGHT, background: "#fff" }}>
      {PANELS.map((_, i) => (
        <Panel key={i} idx={i} />
      ))}
      <div
        style={{
          position: "absolute",
          left: 25,
          top: 464,
          transform: "translate(-50%, -50%) rotate(-90deg)",
          fontFamily: TITLE_FONT,
          fontSize: 40,
          lineHeight: 1,
          whiteSpace: "nowrap",
          color: "#000",
        }}
      >
        Power
      </div>
      <div
        style={{
          position: "absolute",
          left: 670,
          top: 1030,
          transform: "translate(-50%, -50%)",
          fontFamily: TITLE_FONT,
          fontSize: 41,
          lineHeight: 1,
          whiteSpace: "nowrap",
          color: "#000",
        }}
      >
        Frequency (Hz)
      </div>
    </div>
  );
}
